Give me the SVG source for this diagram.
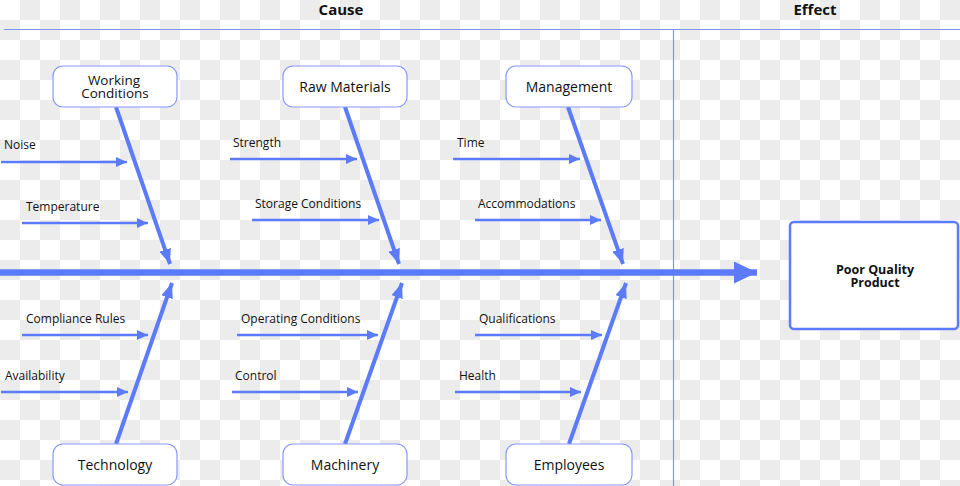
<svg xmlns="http://www.w3.org/2000/svg" width="960" height="486" viewBox="0 0 960 486">
<defs>
<pattern id="checker" width="40" height="40" patternUnits="userSpaceOnUse">
<rect width="40" height="40" fill="#ffffff"/>
<rect x="20" y="0" width="20" height="20" fill="#ececec"/>
<rect x="0" y="20" width="20" height="20" fill="#ececec"/>
</pattern>
<marker id="headS" markerUnits="userSpaceOnUse" markerWidth="12" markerHeight="10" refX="11" refY="5" orient="auto">
<path d="M0,0 L11,5 L0,10 Z" fill="#5b7bfa"/>
</marker>
<marker id="headD" markerUnits="userSpaceOnUse" markerWidth="16" markerHeight="12" refX="15" refY="6" orient="auto">
<path d="M0,0 L15,6 L0,12 Z" fill="#5b7bfa"/>
</marker>
<marker id="headM" markerUnits="userSpaceOnUse" markerWidth="24" markerHeight="24" refX="23" refY="11" orient="auto">
<path d="M0,0 L23,11 L0,22 Z" fill="#5b7bfa"/>
</marker>
</defs>
<style>
.hdr{font-family:"Open Sans","Liberation Sans",sans-serif;font-size:15px;font-weight:bold;fill:#111;text-anchor:middle}
.frame{stroke:#7f92ff;stroke-width:1.2;fill:none}
.node{fill:#fff;stroke:#8798ff;stroke-width:1.2}
.ntxt{font-family:"Open Sans","Liberation Sans",sans-serif;font-size:14px;fill:#111;text-anchor:middle}
.ntxt2{font-family:"Open Sans","Liberation Sans",sans-serif;font-size:13.5px;fill:#111;text-anchor:middle}
.lbl{font-family:"Open Sans","Liberation Sans",sans-serif;font-size:12px;fill:#111}
.sub{stroke:#5b7bfa;stroke-width:2.5;fill:none;marker-end:url(#headS)}
.bone{stroke:#5b7bfa;stroke-width:4;fill:none;marker-end:url(#headD)}
.spine{stroke:#5b7bfa;stroke-width:6.5;fill:none;marker-end:url(#headM)}
.eff{fill:#fff;stroke:#5b7bfa;stroke-width:2.5}
.etxt{font-family:"Open Sans","Liberation Sans",sans-serif;font-size:12.5px;font-weight:bold;fill:#111;text-anchor:middle}
</style>
<rect width="960" height="486" fill="url(#checker)"/>

<g id="header">
<text class="hdr" x="341" y="15">Cause</text>
<text class="hdr" x="815" y="15">Effect</text>
<line class="frame" x1="4" y1="29.5" x2="960" y2="29.5"/>
<line class="frame" x1="673.5" y1="29.5" x2="673.5" y2="486"/>
</g>

<g id="connectors">
<line class="spine" x1="0" y1="272.5" x2="757" y2="272.5"/>
<line class="bone" x1="116" y1="107" x2="170" y2="264"/>
<line class="bone" x1="345" y1="107" x2="399" y2="264"/>
<line class="bone" x1="568" y1="107" x2="623" y2="264"/>
<line class="bone" x1="116" y1="444" x2="172" y2="283"/>
<line class="bone" x1="345" y1="444" x2="402" y2="283"/>
<line class="bone" x1="569" y1="444" x2="626" y2="283"/>
<line class="sub" x1="1" y1="162" x2="127" y2="162"/>
<line class="sub" x1="22" y1="223" x2="148" y2="223"/>
<line class="sub" x1="230" y1="159" x2="357" y2="159"/>
<line class="sub" x1="252" y1="220" x2="379" y2="220"/>
<line class="sub" x1="453" y1="159" x2="580" y2="159"/>
<line class="sub" x1="475" y1="220" x2="601" y2="220"/>
<line class="sub" x1="22" y1="335" x2="148" y2="335"/>
<line class="sub" x1="1" y1="392" x2="128" y2="392"/>
<line class="sub" x1="237" y1="335" x2="378" y2="335"/>
<line class="sub" x1="232" y1="392" x2="358" y2="392"/>
<line class="sub" x1="475" y1="335" x2="602" y2="335"/>
<line class="sub" x1="455" y1="392" x2="581" y2="392"/>
</g>

<g id="labels">
<text class="lbl" x="4" y="149">Noise</text>
<text class="lbl" x="26" y="211">Temperature</text>
<text class="lbl" x="233" y="147">Strength</text>
<text class="lbl" x="255" y="208">Storage Conditions</text>
<text class="lbl" x="457" y="147">Time</text>
<text class="lbl" x="478" y="208">Accommodations</text>
<text class="lbl" x="26" y="323">Compliance Rules</text>
<text class="lbl" x="5" y="380">Availability</text>
<text class="lbl" x="241" y="323">Operating Conditions</text>
<text class="lbl" x="235" y="380">Control</text>
<text class="lbl" x="479" y="323">Qualifications</text>
<text class="lbl" x="459" y="380">Health</text>
</g>

<g id="node-working-conditions">
<rect class="node" x="53" y="66" width="124" height="41" rx="10"/>
<text class="ntxt2" x="114" y="84.5">Working</text>
<text class="ntxt2" x="115" y="97.5">Conditions</text>
</g>
<g id="node-raw-materials">
<rect class="node" x="283" y="66" width="124" height="41" rx="10"/>
<text class="ntxt" x="345" y="91.5">Raw Materials</text>
</g>
<g id="node-management">
<rect class="node" x="506" y="66" width="126" height="41" rx="10"/>
<text class="ntxt" x="569" y="91.5">Management</text>
</g>
<g id="node-technology">
<rect class="node" x="53" y="444" width="124" height="41" rx="10"/>
<text class="ntxt" x="115" y="470">Technology</text>
</g>
<g id="node-machinery">
<rect class="node" x="283" y="444" width="124" height="41" rx="10"/>
<text class="ntxt" x="345" y="470">Machinery</text>
</g>
<g id="node-employees">
<rect class="node" x="506" y="444" width="126" height="41" rx="10"/>
<text class="ntxt" x="569" y="470">Employees</text>
</g>
<g id="node-effect">
<rect class="eff" x="790" y="222" width="168" height="107" rx="4"/>
<text class="etxt" x="875" y="274">Poor Quality</text>
<text class="etxt" x="875" y="287">Product</text>
</g>
</svg>
